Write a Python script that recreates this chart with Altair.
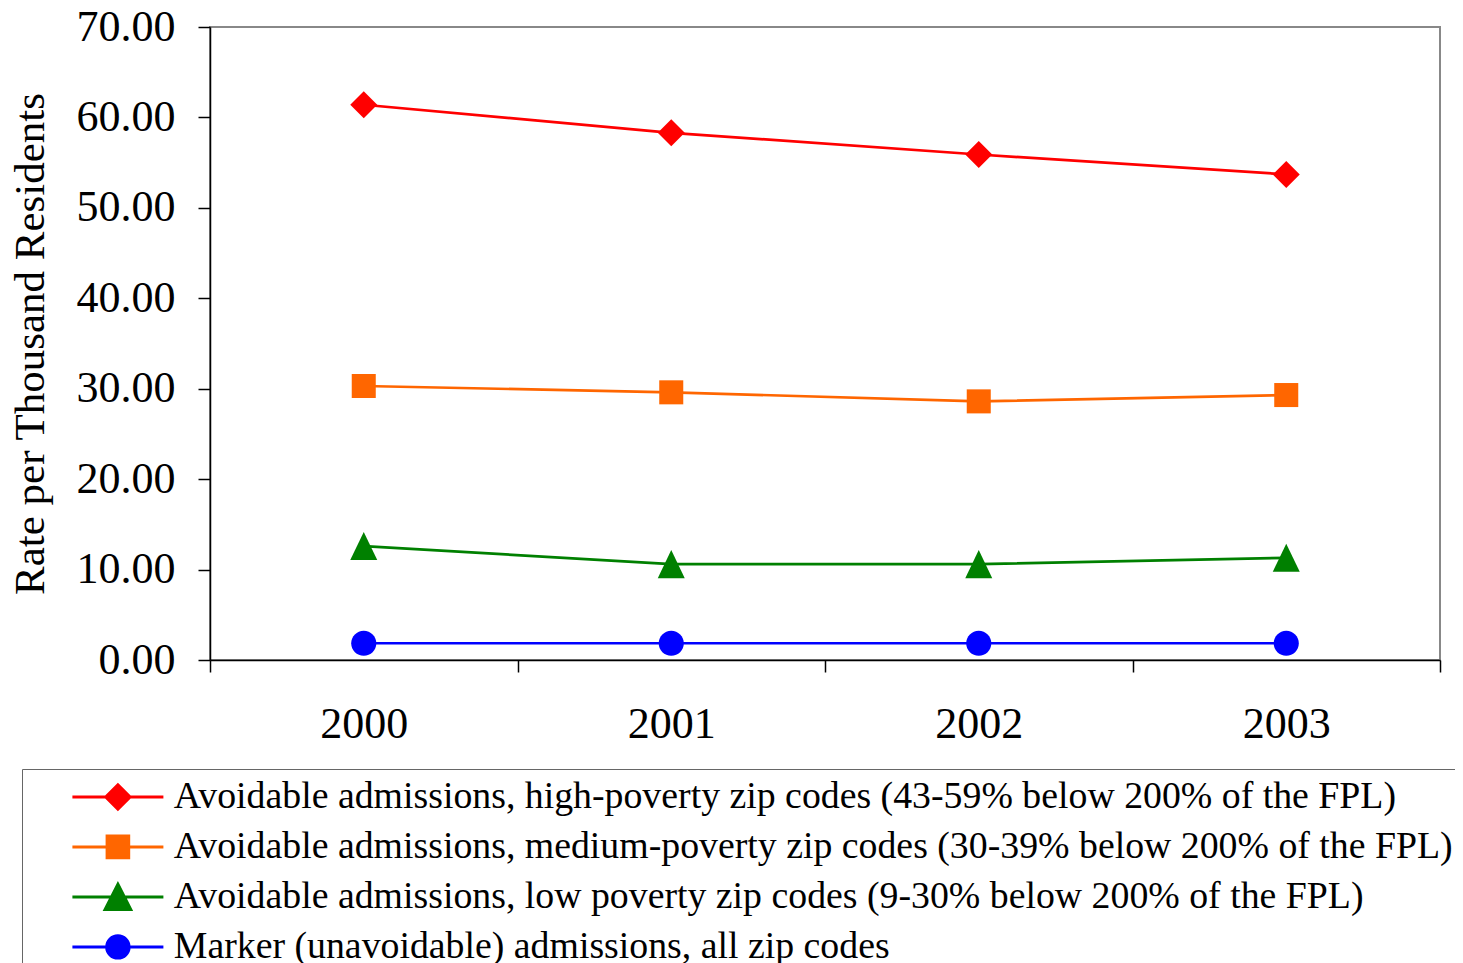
import altair as alt
import pandas as pd

years = ["2000", "2001", "2002", "2003"]
series_names = [
    "Avoidable admissions, high-poverty zip codes (43-59% below 200% of the FPL)",
    "Avoidable admissions, medium-poverty zip codes (30-39% below 200% of the FPL)",
    "Avoidable admissions, low poverty zip codes (9-30% below 200% of the FPL)",
    "Marker (unavoidable) admissions, all zip codes",
]
high_poverty = [61.4, 58.3, 55.9, 53.7]
medium_poverty = [30.3, 29.6, 28.6, 29.3]
low_poverty = [12.6, 10.6, 10.6, 11.3]
marker_all = [1.85, 1.85, 1.85, 1.85]

colors = ["#FF0000", "#FF6600", "#008000", "#0000FF"]
point_shapes = [
    "M0,-1L1,0L0,1L-1,0Z",
    "M-0.89,-0.89H0.89V0.89H-0.89Z",
    "M0,-1.04L1,1.04L-1,1.04Z",
    "M-0.93,0A0.93,0.93,0,1,0,0.93,0A0.93,0.93,0,1,0,-0.93,0Z",
]
legend_shapes = [
    "M-3.37,0H3.37M0,-0.9L0.9,0L0,0.9L-0.9,0Z",
    "M-3.37,0H3.37M-0.8,-0.8H0.8V0.8H-0.8Z",
    "M-3.37,0H3.37M0,-0.94L0.95,0.94L-0.95,0.94Z",
    "M-3.37,0H3.37M-0.83,0A0.83,0.83,0,1,0,0.83,0A0.83,0.83,0,1,0,-0.83,0Z",
]

rows = []
for name, vals in zip(series_names, [high_poverty, medium_poverty, low_poverty, marker_all]):
    for yr, v in zip(years, vals):
        rows.append({"year": yr, "rate": v, "series": name})
df = pd.DataFrame(rows)

FONT = "Liberation Serif"

x_enc = alt.X(
    "year:O",
    scale=alt.Scale(type="band", paddingInner=0, paddingOuter=0),
    axis=alt.Axis(
        title=None, labelAngle=0, tickBand="extent", tickSize=12, labelPadding=30,
        labelFont=FONT, labelFontSize=44, labelColor="black",
        tickColor="black", domainColor="black", tickWidth=1.5, domainWidth=1.5,
    ),
)
y_enc = alt.Y(
    "rate:Q",
    scale=alt.Scale(domain=[0, 70], nice=False),
    axis=alt.Axis(
        values=[0, 10, 20, 30, 40, 50, 60, 70], format=".2f", grid=False,
        tickSize=12, labelPadding=23, labelFont=FONT, labelFontSize=44, labelColor="black",
        tickColor="black", domainColor="black", tickWidth=1.5, domainWidth=1.5,
        title="Rate per Thousand Residents", titleFont=FONT, titleFontSize=43,
        titleFontWeight="normal", titleColor="black", titlePadding=24,
    ),
)

color_scale = alt.Scale(domain=series_names, range=colors)

lines = alt.Chart(df).mark_line(strokeWidth=2.7).encode(
    x=x_enc, y=y_enc,
    color=alt.Color("series:N", scale=color_scale, legend=None),
)

points = alt.Chart(df).mark_point(filled=True, size=729, opacity=1, strokeWidth=0).encode(
    x=x_enc, y=y_enc,
    color=alt.Color("series:N", scale=color_scale, legend=None),
    shape=alt.Shape("series:N", scale=alt.Scale(domain=series_names, range=point_shapes), legend=None),
)

leg = alt.Legend(
    title=None, orient="none", legendX=-188, legendY=742, padding=9,
    symbolOffset=68, labelOffset=37, rowPadding=11,
    labelFont=FONT, labelFontSize=37.8, labelColor="black", labelLimit=3000,
    strokeColor="#666666", fillColor="white", symbolSize=729, symbolStrokeWidth=3,
    symbolOpacity=1,
)

legend_layer = alt.Chart(df).transform_filter("false").mark_point(
    filled=True, size=729, strokeWidth=3, opacity=1
).encode(
    x=x_enc, y=y_enc,
    fill=alt.Fill("series:N", scale=alt.Scale(domain=series_names, range=colors), legend=leg),
    stroke=alt.Stroke("series:N", scale=alt.Scale(domain=series_names, range=colors), legend=leg),
    shape=alt.Shape("series:N", scale=alt.Scale(domain=series_names, range=legend_shapes), legend=leg),
)

chart = alt.layer(lines, points, legend_layer).resolve_scale(
    shape="independent", fill="independent", stroke="independent"
).properties(
    width=1230, height=633,
    padding={"left": 202, "top": 19, "right": 15, "bottom": 303},
    autosize=alt.AutoSizeParams(type="none"),
).configure_view(stroke="#888888", strokeWidth=2)

chart.save("out.html", embed_options={"renderer": "svg", "actions": False})
